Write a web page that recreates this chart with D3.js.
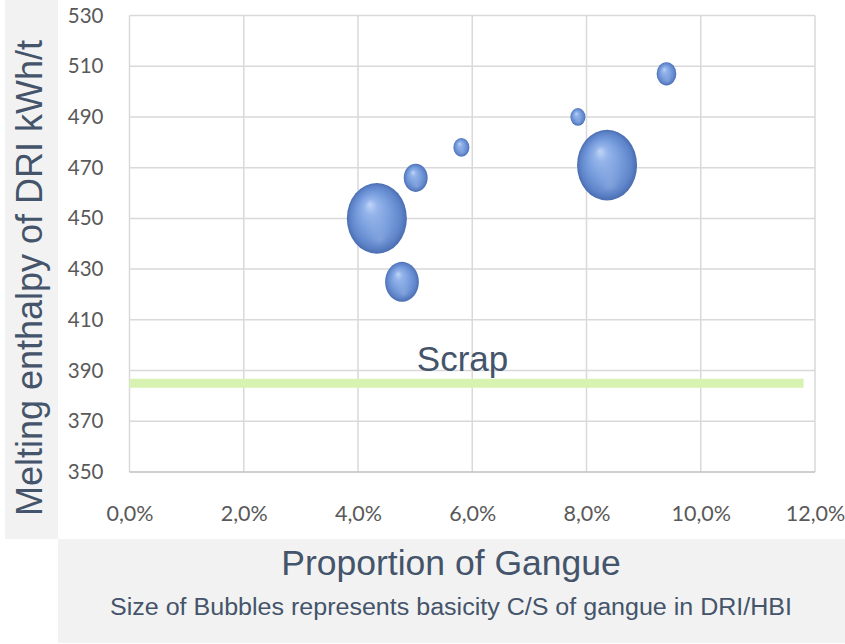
<!DOCTYPE html>
<html>
<head>
<meta charset="utf-8">
<script src="https://cdn.jsdelivr.net/npm/d3@7/dist/d3.min.js"></script>
<style>
  html, body { margin: 0; padding: 0; background: #ffffff; }
  svg { display: block; }
</style>
</head>
<body>
<svg id="chart" width="845" height="644"></svg>
<script>
// Gangue share (fraction), melting enthalpy (kWh/t) and basicity C/S for each DRI/HBI grade
const gangue   = [0.0433, 0.0477, 0.0501, 0.0581, 0.0785, 0.0836, 0.0940];
const enthalpy = [450, 425, 466, 478, 490, 471, 507];
const basicity = [1.20, 0.38, 0.19, 0.085, 0.075, 1.20, 0.13];

// Scrap reference level
const scrapLabel = "Scrap";
const scrapEnthalpy = 385;
const scrapExtent = [0, 0.118];

// Axis ticks
const xTicks = [0, 0.02, 0.04, 0.06, 0.08, 0.10, 0.12];
const yTicks = [350, 370, 390, 410, 430, 450, 470, 490, 510, 530];

const yTitle = "Melting enthalpy of DRI kWh/t";
const xTitle = "Proportion of Gangue";
const subTitle = "Size of Bubbles represents basicity C/S of gangue in DRI/HBI";

const W = 845, H = 644;
const plot = { left: 129.5, right: 815, top: 15.5, bottom: 472 };
const textColor = "#44546a";
const tickColor = "#595959";

const svg = d3.select("#chart");

// Background panels behind the titles
svg.append("rect").attr("x", 0).attr("y", 0).attr("width", W).attr("height", H).attr("fill", "#ffffff");
svg.append("rect").attr("x", 5).attr("y", 0).attr("width", 53).attr("height", 539).attr("fill", "#f2f2f2");
svg.append("rect").attr("x", 58).attr("y", 539).attr("width", W - 58).attr("height", 104).attr("fill", "#f2f2f2");

const x = d3.scaleLinear().domain([0, 0.12]).range([plot.left, plot.right]);
const y = d3.scaleLinear().domain([350, 530]).range([plot.bottom, plot.top]);
const r = d3.scaleSqrt().domain([0, 1.2]).range([0, 30]);

const pct = d3.formatLocale({ decimal: ",", thousands: ".", grouping: [3], currency: ["", "€"] }).format(".1%");

// Gridlines
const grid = svg.append("g");
grid.selectAll("line.v").data(xTicks).join("line")
  .attr("class", "v")
  .attr("x1", d => x(d)).attr("x2", d => x(d))
  .attr("y1", plot.top).attr("y2", plot.bottom)
  .attr("stroke", "#d9d9d9").attr("stroke-width", 1.5);
grid.selectAll("line.h").data(yTicks).join("line")
  .attr("class", "h")
  .attr("x1", plot.left).attr("x2", plot.right)
  .attr("y1", d => y(d)).attr("y2", d => y(d))
  .attr("stroke", d => d === 350 ? "#bfbfbf" : "#d9d9d9").attr("stroke-width", 1.5);

// Axes (labels only)
const xAxis = svg.append("g")
  .attr("transform", `translate(0,${plot.bottom})`)
  .call(d3.axisBottom(x).tickValues(xTicks).tickFormat(pct).tickSize(0).tickPadding(34));
xAxis.select(".domain").remove();
xAxis.selectAll("text")
  .attr("fill", tickColor).style("font-family", "Lato, 'Open Sans', sans-serif").style("font-size", "21.5px");

const yAxis = svg.append("g")
  .attr("transform", `translate(${plot.left},0)`)
  .call(d3.axisLeft(y).tickValues(yTicks).tickFormat(d3.format("d")).tickSize(0).tickPadding(26));
yAxis.select(".domain").remove();
yAxis.selectAll("text")
  .attr("fill", tickColor).style("font-family", "Lato, 'Open Sans', sans-serif").style("font-size", "20.5px");

// Scrap reference band
svg.append("line")
  .attr("x1", x(scrapExtent[0])).attr("x2", x(scrapExtent[1]))
  .attr("y1", y(scrapEnthalpy)).attr("y2", y(scrapEnthalpy))
  .attr("stroke", "#d8f3b1").attr("stroke-width", 9);
svg.append("text")
  .attr("x", x(0.0583)).attr("y", y(389.7))
  .attr("text-anchor", "middle")
  .attr("fill", textColor)
  .style("font-family", "'Liberation Sans', Arial, sans-serif").style("font-size", "35px")
  .text(scrapLabel);

// Sphere shading for the bubbles
const defs = svg.append("defs");
const grad = defs.append("radialGradient").attr("id", "sphere")
  .attr("cx", "50%").attr("cy", "50%").attr("r", "50%").attr("fx", "38%").attr("fy", "30%");
[["0%", "#c2d7f8"], ["22%", "#93b3ea"], ["58%", "#7198da"], ["85%", "#5c82c8"], ["100%", "#4a6db1"]]
  .forEach(([o, c]) => grad.append("stop").attr("offset", o).attr("stop-color", c));
const glow = defs.append("radialGradient").attr("id", "lower")
  .attr("cx", "50%").attr("cy", "50%").attr("r", "50%").attr("fx", "55%").attr("fy", "80%");
[["0%", "#a7c0ec", 0.4], ["45%", "#a7c0ec", 0.1], ["100%", "#a7c0ec", 0]]
  .forEach(([o, c, a]) => glow.append("stop").attr("offset", o).attr("stop-color", c).attr("stop-opacity", a));

const points = gangue.map((g, i) => ({ g, e: enthalpy[i], b: basicity[i] }))
  .sort((a, b) => b.b - a.b);

const bubbles = svg.append("g");
bubbles.selectAll("ellipse.ball").data(points).join("ellipse")
  .attr("class", "ball")
  .attr("cx", d => x(d.g)).attr("cy", d => y(d.e))
  .attr("rx", d => r(d.b)).attr("ry", d => r(d.b) * 1.18)
  .attr("fill", "url(#sphere)");
bubbles.selectAll("ellipse.shine").data(points).join("ellipse")
  .attr("class", "shine")
  .attr("cx", d => x(d.g)).attr("cy", d => y(d.e))
  .attr("rx", d => r(d.b)).attr("ry", d => r(d.b) * 1.18)
  .attr("fill", "url(#lower)");

// Titles
svg.append("text")
  .attr("transform", "translate(42,278) rotate(-90)")
  .attr("text-anchor", "middle")
  .attr("fill", textColor)
  .style("font-family", "'Liberation Sans', Arial, sans-serif").style("font-size", "36px")
  .text(yTitle);
svg.append("text")
  .attr("x", 451).attr("y", 575)
  .attr("text-anchor", "middle")
  .attr("fill", textColor)
  .style("font-family", "'Liberation Sans', Arial, sans-serif").style("font-size", "35.5px")
  .text(xTitle);
svg.append("text")
  .attr("x", 451).attr("y", 615)
  .attr("text-anchor", "middle")
  .attr("textLength", 682).attr("lengthAdjust", "spacingAndGlyphs")
  .attr("fill", textColor)
  .style("font-family", "'Liberation Sans', Arial, sans-serif").style("font-size", "23px")
  .text(subTitle);
</script>
</body>
</html>
